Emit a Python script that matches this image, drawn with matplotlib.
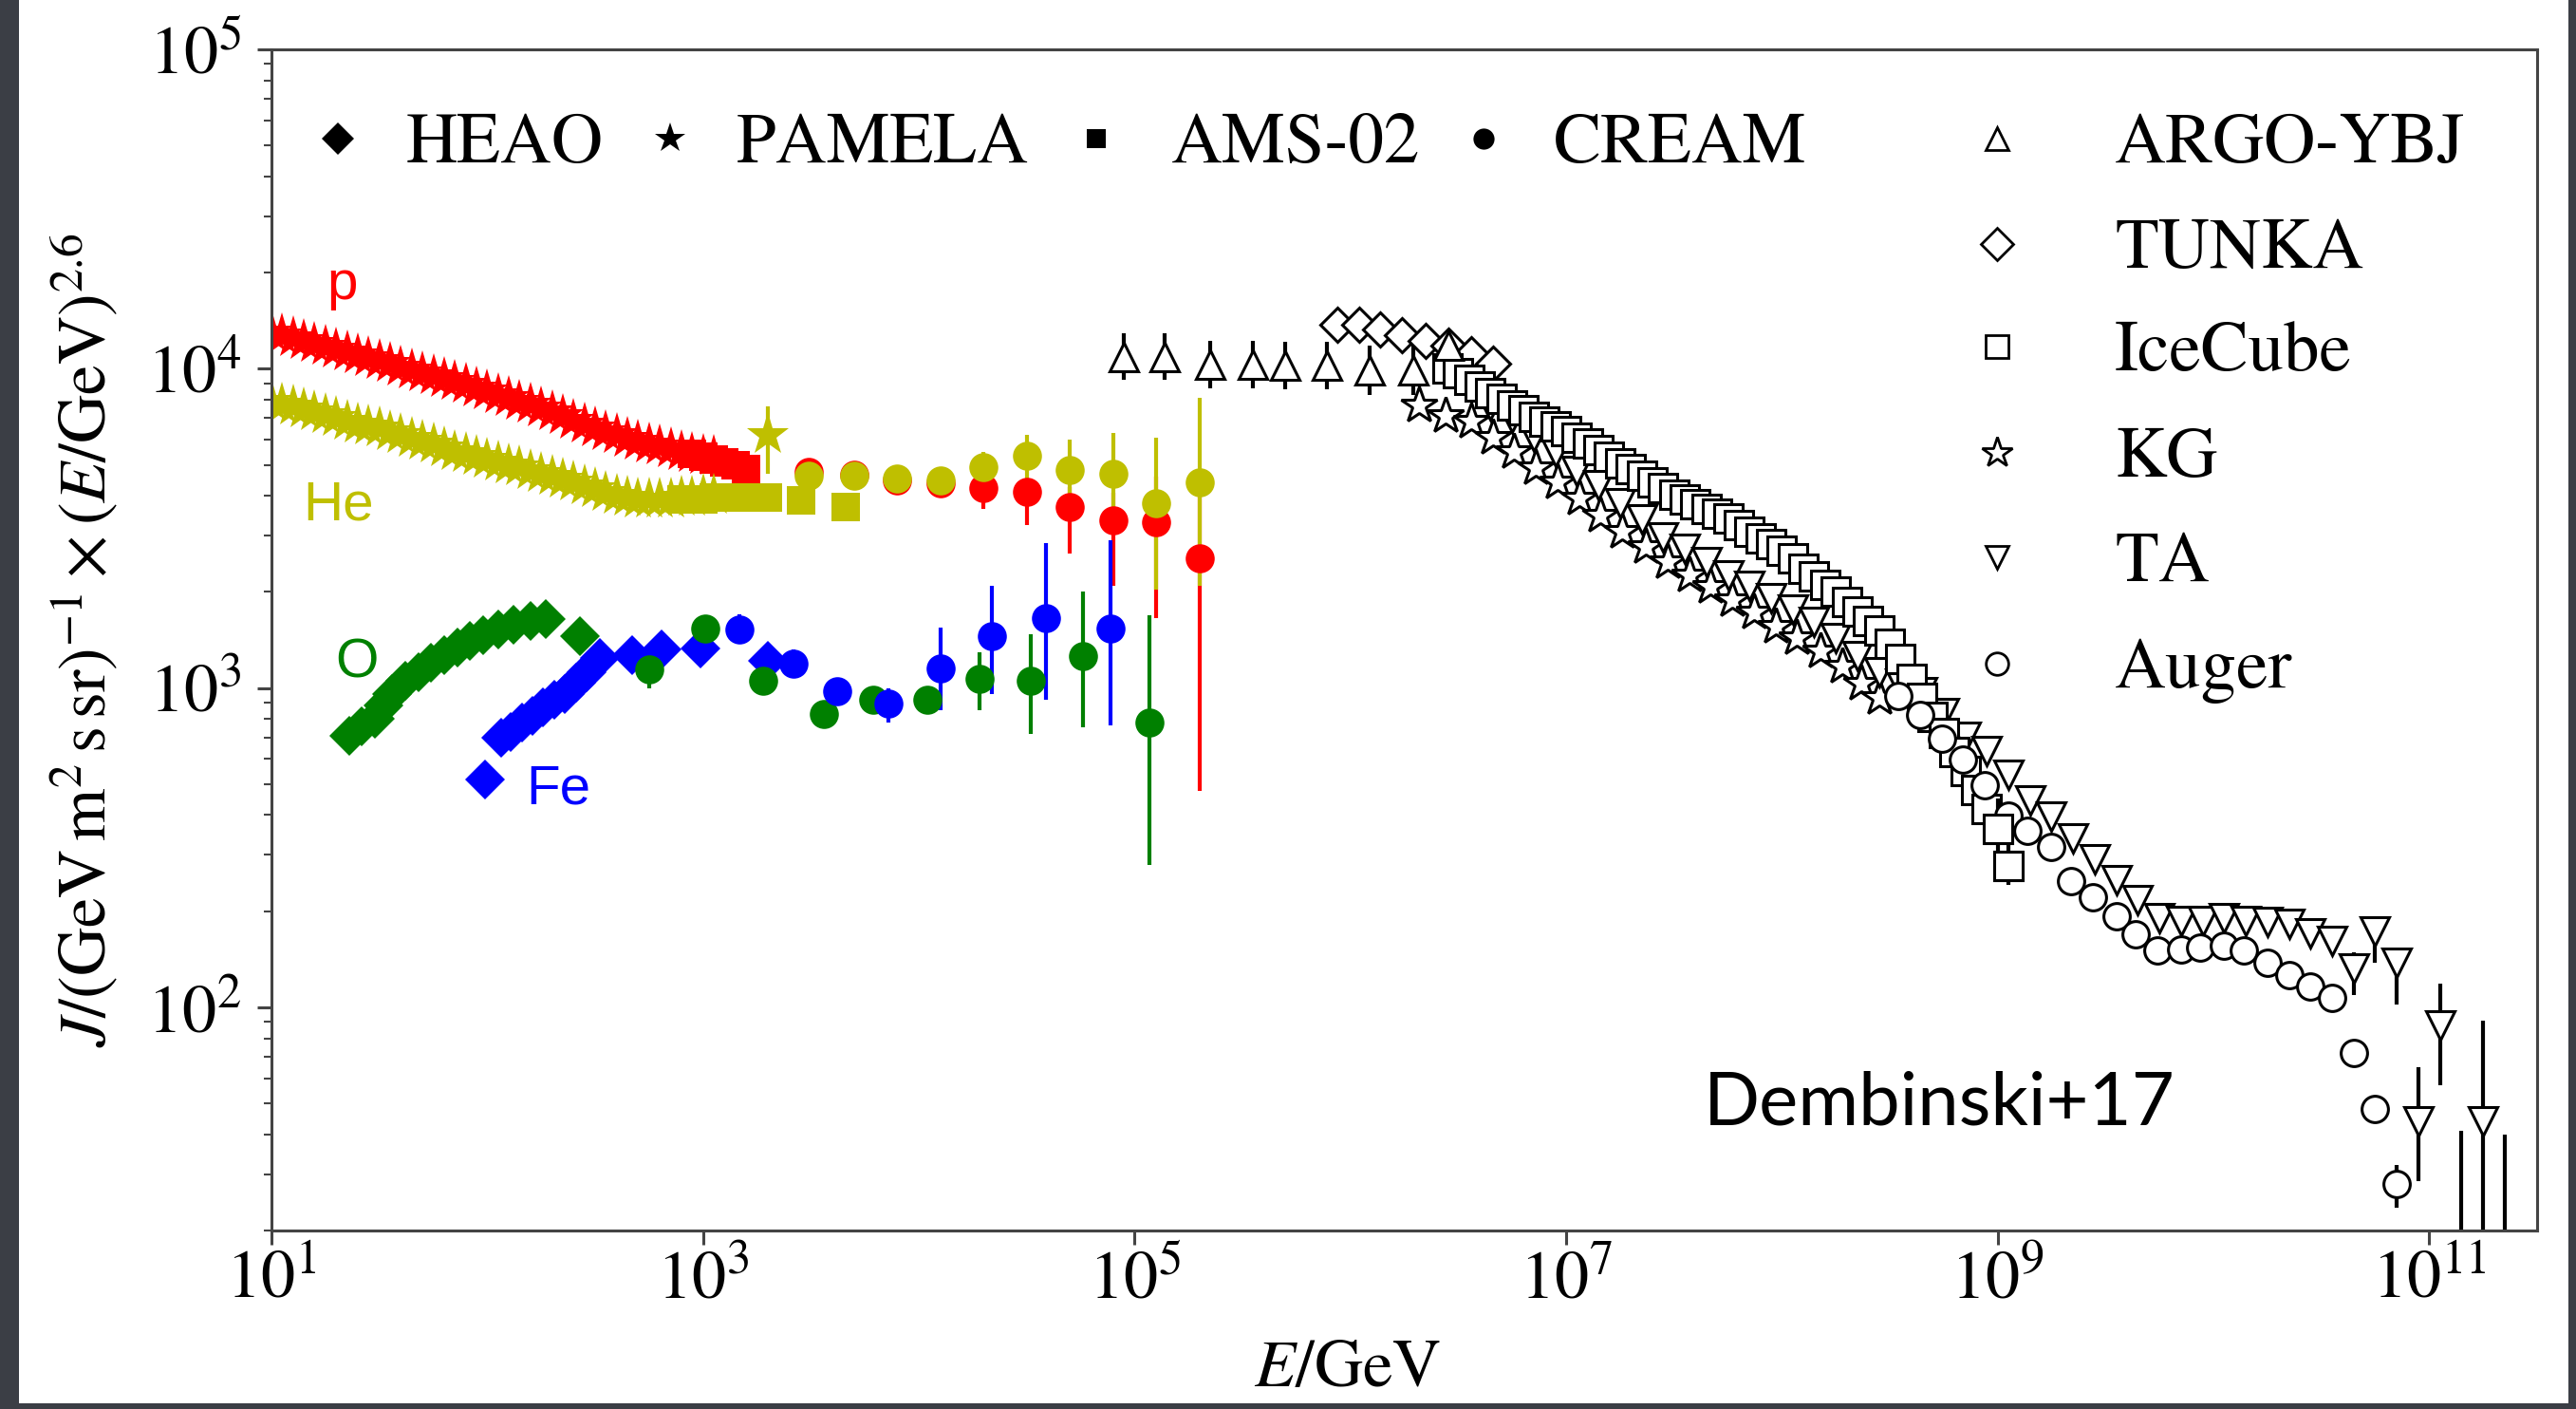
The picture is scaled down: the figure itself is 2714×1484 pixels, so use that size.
import matplotlib
matplotlib.use('Agg')
import matplotlib.pyplot as plt
import numpy
from matplotlib.patches import Rectangle
from matplotlib.ticker import FixedLocator, NullLocator, LogLocator, FuncFormatter, NullFormatter

plt.rcParams['font.family'] = 'STIXGeneral'
plt.rcParams['mathtext.fontset'] = 'stix'

# Energies are log10(E/GeV); fluxes are J x (E/GeV)^2.6 in (GeV m^2 s sr)^-1

# PAMELA proton and helium
pamela_lgE = [1.00, 1.05, 1.10, 1.15, 1.20, 1.25, 1.30, 1.35, 1.40, 1.45,
              1.50, 1.55, 1.60, 1.65, 1.70, 1.75, 1.80, 1.85, 1.90, 1.95,
              2.00, 2.05, 2.10, 2.15, 2.20, 2.25, 2.30, 2.35, 2.40, 2.45,
              2.50, 2.55, 2.60, 2.65, 2.70, 2.75, 2.80, 2.85, 2.90, 2.95,
              3.00, 3.05]
pamela_p = [13000, 12750, 12500, 12250, 12000, 11750, 11500, 11250, 11000, 10800,
            10600, 10350, 10100, 9900, 9700, 9500, 9300, 9100, 8900, 8700,
            8500, 8300, 8100, 7900, 7700, 7500, 7300, 7100, 6900, 6700,
            6500, 6350, 6200, 6050, 5900, 5800, 5700, 5600, 5500, 5400,
            5350, 5300]
pamela_he = [7900, 7750, 7600, 7450, 7300, 7150, 7000, 6850, 6700, 6600,
             6500, 6350, 6200, 6050, 5900, 5800, 5650, 5500, 5400, 5300,
             5200, 5100, 5000, 4900, 4800, 4700, 4600, 4500, 4400, 4300,
             4200, 4100, 4000, 3950, 3900, 3900, 3900, 3900, 3950, 3950,
             4000, 4000]
pamela_he_last_lgE = [3.30]
pamela_he_last = [6200]
pamela_he_last_lo = [4700]
pamela_he_last_hi = [7600]

# AMS-02 proton and helium
ams_p_lgE = [2.95, 3.00, 3.05, 3.10, 3.15, 3.20]
ams_p = [5400, 5300, 5200, 5100, 5000, 4860]
ams_he_lgE = [2.90, 2.95, 3.00, 3.05, 3.10, 3.15, 3.20, 3.25, 3.30, 3.455, 3.662]
ams_he = [3900, 3900, 3900, 3950, 3950, 3950, 3950, 3950, 3950, 3880, 3700]

# CREAM proton and helium
cream_lgE = [3.49, 3.70, 3.90, 4.10, 4.30, 4.50, 4.70, 4.90, 5.10, 5.30]
cream_p = [4740, 4650, 4460, 4370, 4220, 4120, 3700, 3340, 3310, 2550]
cream_p_lo = [4600, 4500, 4300, 4200, 3650, 3230, 2640, 2090, 1650, 475]
cream_p_hi = [4880, 4800, 4620, 4550, 4750, 4520, 4250, 4100, 4600, 4400]
cream_he = [4630, 4630, 4520, 4460, 4920, 5340, 4830, 4680, 3780, 4400]
cream_he_lo = [4450, 4450, 4320, 4250, 4200, 4460, 3750, 3220, 2030, 2090]
cream_he_hi = [4810, 4810, 4720, 4680, 5500, 6200, 6000, 6300, 6100, 8100]

# HEAO oxygen and iron
heao_o_lgE = [1.36, 1.42, 1.48, 1.52, 1.56, 1.62, 1.68, 1.74, 1.80, 1.86,
              1.92, 1.98, 2.05, 2.12, 2.20, 2.27, 2.43]
heao_o = [710, 760, 800, 880, 960, 1050, 1120, 1200, 1270, 1340,
          1400, 1460, 1520, 1580, 1620, 1640, 1450]
heao_fe_lgE = [1.99, 2.065, 2.11, 2.16, 2.21, 2.26, 2.31, 2.36, 2.41, 2.46,
               2.52, 2.67, 2.81, 2.99, 3.30]
heao_fe = [516, 700, 730, 780, 820, 870, 920, 960, 1040, 1120,
           1240, 1270, 1320, 1330, 1220]

# CREAM oxygen and iron
cream_o_lgE = [2.75, 3.01, 3.28, 3.56, 3.79, 4.04, 4.28, 4.52, 4.76, 5.07]
cream_o = [1140, 1540, 1050, 830, 918, 918, 1070, 1050, 1260, 782]
cream_o_lo = [1000, 1450, 980, 790, 880, 850, 852, 718, 753, 279]
cream_o_hi = [1300, 1650, 1130, 880, 960, 1000, 1290, 1470, 2000, 1690]
cream_fe_lgE = [3.17, 3.42, 3.62, 3.86, 4.10, 4.34, 4.59, 4.89]
cream_fe = [1530, 1190, 975, 894, 1150, 1450, 1650, 1540]
cream_fe_lo = [1380, 1080, 930, 780, 852, 957, 919, 764]
cream_fe_hi = [1700, 1320, 1020, 1000, 1550, 2090, 2850, 2900]

# Air shower experiments (all particle flux)
argo_lgE = [4.95, 5.14, 5.35, 5.55, 5.70, 5.89, 6.09, 6.29, 6.455]
argo = [10900, 10900, 10300, 10300, 10200, 10200, 9900, 9900, 11800]
argo_lo = [9200, 9200, 8700, 8700, 8600, 8600, 8300, 8300, 11000]
argo_hi = [12900, 12900, 12200, 12200, 12100, 12100, 11800, 11800, 12600]

tunka_lgE = [5.94, 6.04, 6.14, 6.24, 6.35, 6.455, 6.56, 6.66]
tunka = [13700, 13700, 13300, 12700, 12200, 11800, 11100, 10400]

icecube_lgE = [6.45, 6.50, 6.55, 6.60, 6.65, 6.70, 6.75, 6.80, 6.85, 6.90,
               6.95, 7.00, 7.05, 7.10, 7.15, 7.20, 7.25, 7.30, 7.35, 7.40,
               7.45, 7.50, 7.55, 7.60, 7.65, 7.70, 7.75, 7.80, 7.85, 7.90,
               7.95, 8.00, 8.05, 8.10, 8.15, 8.20, 8.25, 8.30, 8.35, 8.40,
               8.45, 8.50, 8.55, 8.60, 8.65, 8.70, 8.75, 8.80, 8.85, 8.90,
               8.95, 9.00, 9.05]
icecube = [10000, 9660, 9230, 8810, 8410, 8040, 7670, 7410, 7080, 6840,
           6610, 6380, 6100, 5820, 5560, 5310, 5070, 4840, 4620, 4420,
           4220, 4030, 3890, 3760, 3630, 3510, 3390, 3240, 3090, 2950,
           2820, 2690, 2540, 2370, 2240, 2110, 2000, 1860, 1740, 1620,
           1510, 1380, 1230, 1070, 933, 813, 724, 631, 550, 479,
           417, 363, 277]
icecube_err_lgE = [9.00, 9.05]
icecube_err = [363, 277]
icecube_err_lo = [290, 241]
icecube_err_hi = [450, 337]

kg_lgE = [6.32, 6.44, 6.56, 6.66, 6.76, 6.86, 6.96, 7.06, 7.16, 7.26, 7.37,
          7.47, 7.57, 7.67, 7.77, 7.87, 7.97, 8.07, 8.18, 8.28, 8.37, 8.45]
kg = [7660, 7100, 6810, 6100, 5490, 4870, 4420, 3910, 3470, 3080, 2760,
      2480, 2260, 2070, 1880, 1720, 1560, 1430, 1300, 1170, 1030, 929]

ta_lgE = [6.65, 6.75, 6.85, 6.95, 7.05, 7.15, 7.25, 7.35, 7.45, 7.55,
          7.65, 7.75, 7.85, 7.95, 8.05, 8.15, 8.25, 8.35, 8.45, 8.55,
          8.65, 8.75, 8.85, 8.95, 9.05, 9.15, 9.25, 9.35, 9.45, 9.55,
          9.65, 9.75, 9.85, 9.95, 10.05, 10.15, 10.25, 10.35, 10.45, 10.55]
ta = [7690, 7000, 6110, 5480, 4780, 4310, 3800, 3370, 2970, 2720,
      2480, 2260, 2090, 1910, 1760, 1610, 1430, 1260, 1120, 1035,
      970, 836, 703, 634, 535, 446, 396, 339, 290, 251,
      217, 190, 187, 187, 190, 187, 185, 182, 171, 161]
ta_end_lgE = [10.65, 10.75, 10.85, 10.95, 11.05, 11.15, 11.25, 11.35]
ta_end = [132, 173, 138, 44, 88, 10, 44, 10]
ta_end_lo = [109, 138, 102, 28.5, 57, 5, 10, 5]
ta_end_hi = [149, 192, 154, 65, 119, 41, 91, 40]

auger_lgE = [8.54, 8.64, 8.74, 8.84, 8.94, 9.05, 9.14, 9.25, 9.34, 9.44,
             9.55, 9.64, 9.74, 9.85, 9.94, 10.05, 10.14, 10.25, 10.35, 10.45,
             10.55, 10.65, 10.75]
auger = [945, 824, 693, 597, 497, 398, 357, 317, 249, 221,
         193, 169, 151, 152, 154, 156, 151, 138, 126, 116,
         107, 72, 48]
auger_end_lgE = [10.85]
auger_end = [28]
auger_end_lo = [23.6]
auger_end_hi = [32]

RED = (1.0, 0.0, 0.0)
OLIVE = (0.75, 0.75, 0.0)
GREEN = (0.0, 0.5, 0.0)
BLUE = (0.0, 0.0, 1.0)


def E(lgE):
    return numpy.power(10.0, numpy.array(lgE))


def yerr(val, lo, hi):
    val = numpy.array(val, dtype = float)
    return [val - numpy.array(lo), numpy.array(hi) - val]


fig = plt.figure(figsize = (27.14, 14.84), dpi = 100, facecolor = '#3b3e45')
fig.add_artist(Rectangle((20 / 2714, 6 / 1484), 2686 / 2714, 1478 / 1484,
                         transform = fig.transFigure, facecolor = 'white',
                         edgecolor = 'none', zorder = -5))
ax = fig.add_axes([286 / 2714, 188 / 1484, 2387 / 2714, 1244 / 1484])

# Direct measurements (coloured)
ax.plot(E(pamela_lgE), pamela_p, linestyle = 'none', marker = '*', ms = 34, mew = 0, color = RED)
ax.plot(E(ams_p_lgE), ams_p, linestyle = 'none', marker = 's', ms = 21, mew = 0, color = RED)
ax.errorbar(E(cream_lgE), cream_p, yerr = yerr(cream_p, cream_p_lo, cream_p_hi), fmt = 'o',
            ms = 22, mew = 0, color = RED, elinewidth = 3, capsize = 0)

ax.plot(E(pamela_lgE), pamela_he, linestyle = 'none', marker = '*', ms = 34, mew = 0, color = OLIVE)
ax.errorbar(E(pamela_he_last_lgE), pamela_he_last,
            yerr = yerr(pamela_he_last, pamela_he_last_lo, pamela_he_last_hi), fmt = '*',
            ms = 34, mew = 0, color = OLIVE, elinewidth = 3, capsize = 0)
ax.plot(E(ams_he_lgE), ams_he, linestyle = 'none', marker = 's', ms = 21, mew = 0, color = OLIVE)
ax.errorbar(E(cream_lgE), cream_he, yerr = yerr(cream_he, cream_he_lo, cream_he_hi), fmt = 'o',
            ms = 22, mew = 0, color = OLIVE, elinewidth = 3, capsize = 0)

ax.plot(E(heao_o_lgE), heao_o, linestyle = 'none', marker = 'D', ms = 21, mew = 0, color = GREEN)
ax.errorbar(E(cream_o_lgE), cream_o, yerr = yerr(cream_o, cream_o_lo, cream_o_hi), fmt = 'o',
            ms = 22, mew = 0, color = GREEN, elinewidth = 3, capsize = 0)

ax.plot(E(heao_fe_lgE), heao_fe, linestyle = 'none', marker = 'D', ms = 21, mew = 0, color = BLUE)
ax.errorbar(E(cream_fe_lgE), cream_fe, yerr = yerr(cream_fe, cream_fe_lo, cream_fe_hi), fmt = 'o',
            ms = 22, mew = 0, color = BLUE, elinewidth = 3, capsize = 0)

# Air shower arrays (open black markers)
open_style = dict(linestyle = 'none', mfc = 'white', mec = 'black', mew = 2.2)
ax.plot(E(kg_lgE), kg, marker = '*', ms = 29, **open_style)
ax.plot(E(ta_lgE), ta, marker = 'v', ms = 22, **open_style)
ax.errorbar(E(ta_end_lgE), ta_end, yerr = yerr(ta_end, ta_end_lo, ta_end_hi), fmt = 'v',
            ms = 22, mfc = 'white', mec = 'black', mew = 2.2, ecolor = 'black',
            elinewidth = 3, capsize = 0)
ax.plot(E(tunka_lgE), tunka, marker = 'D', ms = 18, **open_style)
ax.errorbar(E(argo_lgE), argo, yerr = yerr(argo, argo_lo, argo_hi), fmt = '^',
            ms = 22, mfc = 'white', mec = 'black', mew = 2.2, ecolor = 'black',
            elinewidth = 3, capsize = 0)
ax.plot(E(icecube_lgE), icecube, marker = 's', ms = 21, **open_style)
ax.errorbar(E(icecube_err_lgE), icecube_err, yerr = yerr(icecube_err, icecube_err_lo, icecube_err_hi),
            fmt = 's', ms = 21, mfc = 'white', mec = 'black', mew = 2.2, ecolor = 'black',
            elinewidth = 3, capsize = 0)
ax.plot(E(auger_lgE), auger, marker = 'o', ms = 20, **open_style)
ax.errorbar(E(auger_end_lgE), auger_end, yerr = yerr(auger_end, auger_end_lo, auger_end_hi),
            fmt = 'o', ms = 20, mfc = 'white', mec = 'black', mew = 2.2, ecolor = 'black',
            elinewidth = 3, capsize = 0)

ax.set_xscale('log')
ax.set_yscale('log')
ax.set_xlim(10, 10 ** 11.5)
ax.set_ylim(20, 1e5)

ax.xaxis.set_major_locator(FixedLocator([1e1, 1e3, 1e5, 1e7, 1e9, 1e11]))
ax.xaxis.set_minor_locator(NullLocator())
ax.yaxis.set_major_locator(FixedLocator([1e2, 1e3, 1e4, 1e5]))
ax.yaxis.set_minor_locator(LogLocator(base = 10, subs = numpy.arange(2, 10)))
ax.yaxis.set_minor_formatter(NullFormatter())
pow_fmt = FuncFormatter(lambda v, pos: r'$10^{%d}$' % int(round(numpy.log10(v))))
ax.xaxis.set_major_formatter(pow_fmt)
ax.yaxis.set_major_formatter(pow_fmt)

ax.tick_params(which = 'major', direction = 'out', length = 11, width = 2.2, labelsize = 52, color = '#444444')
ax.tick_params(which = 'minor', direction = 'out', length = 6, width = 1.5, color = '#444444')
ax.tick_params(axis = 'x', pad = 4)
ax.tick_params(axis = 'y', pad = 12)
for s in ax.spines.values():
    s.set_linewidth(2.2)
    s.set_color('#444444')

ax.set_ylabel(r'$J/(\mathrm{GeV\,m^2\,s\,sr})^{-1}\times(E/\mathrm{GeV})^{2.6}$', fontsize = 51)
ax.yaxis.set_label_coords(-0.066, 0.5)
ax.set_xlabel(r'$E/\mathrm{GeV}$', fontsize = 51)
ax.xaxis.set_label_coords(0.475, -0.092)

# Element labels
ax.text(0.0243, 0.7886, 'p', transform = ax.transAxes, color = RED, fontsize = 42, family = 'Liberation Sans', va = 'baseline')
ax.text(0.0138, 0.6013, 'He', transform = ax.transAxes, color = OLIVE, fontsize = 42, family = 'Liberation Sans', va = 'baseline')
ax.text(0.0281, 0.4686, 'O', transform = ax.transAxes, color = GREEN, fontsize = 42, family = 'Liberation Sans', va = 'baseline')
ax.text(0.1123, 0.3617, 'Fe', transform = ax.transAxes, color = BLUE, fontsize = 42, family = 'Liberation Sans', va = 'baseline')

# Legend of direct measurements (filled markers, one row)
top_names = ['HEAO', 'PAMELA', 'AMS-02', 'CREAM']
top_markers = ['D', '*', 's', 'o']
top_sizes = [17, 24, 15, 16]
top_mx = [0.0293, 0.176, 0.364, 0.535]
top_tx = [0.0595, 0.205, 0.397, 0.566]
for name, m, s, mx, tx in zip(top_names, top_markers, top_sizes, top_mx, top_tx):
    ax.plot([mx], [0.9244], transform = ax.transAxes, marker = m, ms = s, color = 'black',
            mew = 0, linestyle = 'none', clip_on = False)
    ax.text(tx, 0.9043, name, transform = ax.transAxes, fontsize = 54, va = 'baseline')

# Legend of air shower experiments (open markers, one column)
right_names = ['ARGO-YBJ', 'TUNKA', 'IceCube', 'KG', 'TA', 'Auger']
right_markers = ['^', 'D', 's', '*', 'v', 'o']
right_sizes = [17, 17, 17, 24, 17, 17]
right_my = [0.9244, 0.8352, 0.7484, 0.6584, 0.5699, 0.4799]
right_ty = [0.9043, 0.8151, 0.7283, 0.6383, 0.5498, 0.4598]
for name, m, s, my, ty in zip(right_names, right_markers, right_sizes, right_my, right_ty):
    ax.plot([0.7616], [my], transform = ax.transAxes, marker = m, ms = s, mfc = 'white',
            mec = 'black', mew = 2.0, linestyle = 'none', clip_on = False)
    ax.text(0.8136, ty, name, transform = ax.transAxes, fontsize = 54, va = 'baseline')

ax.text(0.6321, 0.090, 'Dembinski+17', transform = ax.transAxes, fontsize = 56, family = 'Lato', va = 'baseline')

fig.savefig('out.png', dpi = 100, facecolor = fig.get_facecolor())
